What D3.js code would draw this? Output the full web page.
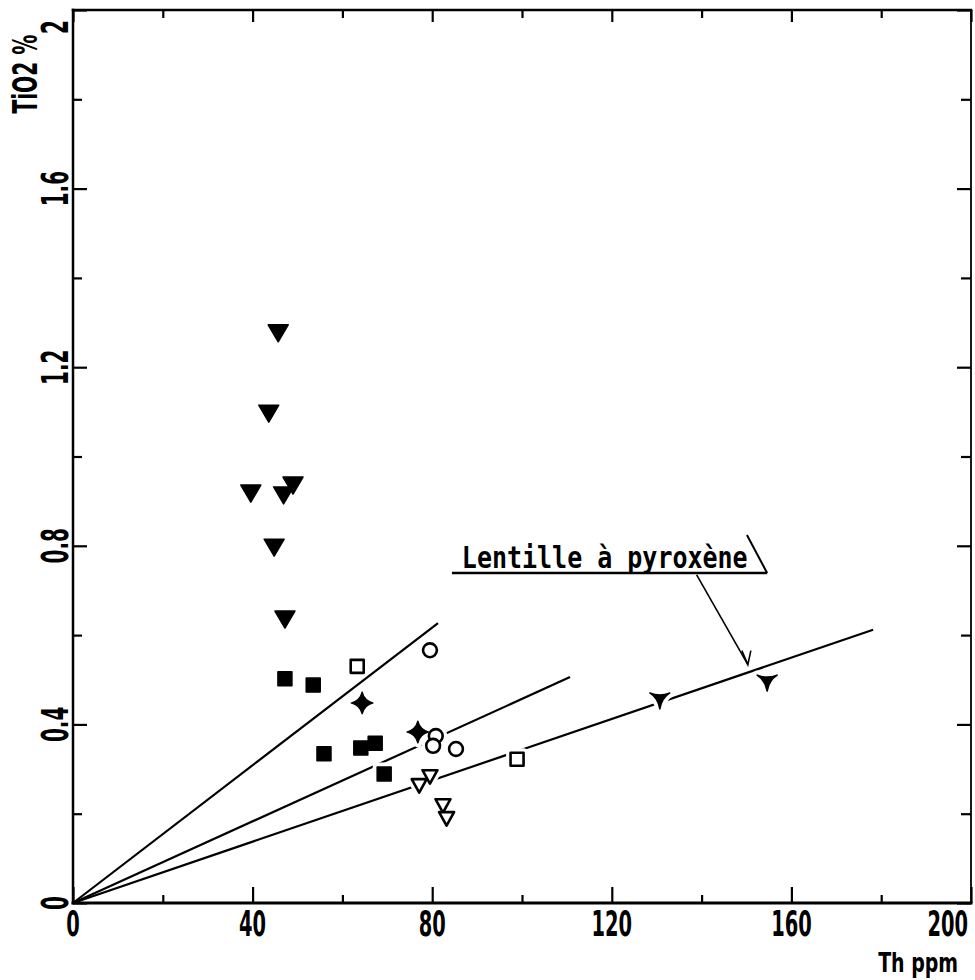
<!DOCTYPE html>
<html>
<head>
<meta charset="utf-8">
<script src="https://cdn.jsdelivr.net/npm/d3@7"></script>
<style>
  html, body { margin: 0; padding: 0; background: #fff; }
  svg { display: block; }
</style>
</head>
<body>
<svg id="chart" width="975" height="980"></svg>
<script>
// ---------------- DATA ----------------
const xTickValues = [0, 20, 40, 60, 80, 100, 120, 140, 160, 180, 200];
const xTickLabels = ["0", "40", "80", "120", "160", "200"];
const xLabelValues = [0, 40, 80, 120, 160, 200];
const yTickValues = [0, 0.2, 0.4, 0.6, 0.8, 1.0, 1.2, 1.4, 1.6, 1.8, 2.0];
const yLabelValues = [0, 0.4, 0.8, 1.2, 1.6, 2];
const yTickLabels = ["0", "0.4", "0.8", "1.2", "1.6", "2"];

// [Th ppm, TiO2 %]
const filledTriangles = [[45.7, 1.277], [43.6, 1.097], [39.6, 0.918], [46.9, 0.914], [49.0, 0.936], [44.8, 0.797], [47.2, 0.636]];
const filledSquares = [[47.2, 0.502], [53.5, 0.488], [55.9, 0.334], [64.1, 0.347], [67.3, 0.358], [69.3, 0.289]];
const openSquares = [[63.3, 0.530], [98.9, 0.322]];
const plusMarks = [[64.4, 0.448], [76.8, 0.383]];
const openCircles = [[79.5, 0.566], [80.8, 0.374], [80.2, 0.352], [85.3, 0.345]];
const openTriangles = [[77.1, 0.264], [79.5, 0.284], [82.4, 0.219], [83.2, 0.190]];
const pyroxeneMarks = [[130.7, 0.457], [154.6, 0.497]];

// regression lines from origin: end points
const lineEnds = [[81.3, 0.627], [110.7, 0.506], [178.2, 0.612]];

const annotationText = "Lentille à pyroxène";
const xTitle = "Th ppm";
const yTitle = "TiO2 %";

// ---------------- CHART ----------------
const svg = d3.select("#chart");
const x = d3.scaleLinear().domain([0, 200]).range([73, 971]);
const y = d3.scaleLinear().domain([0, 2]).range([903, 10]);

const ink = "#000";
const font = "'DejaVu Sans Condensed','DejaVu Sans',sans-serif";

// ticks via d3 axes (inward)
function styleTicks(g, majorEvery, majorLen, minorLen, horizontal, sign) {
  g.select(".domain").remove();
  g.selectAll(".tick line").each(function(d) {
    const isMajor = Math.abs(Math.round(d / majorEvery) * majorEvery - d) < 1e-6;
    const len = (isMajor ? majorLen : minorLen) * sign;
    const ln = d3.select(this).attr("stroke", ink).attr("stroke-width", 2.2);
    if (horizontal) ln.attr("x2", 0).attr("y2", len);
    else ln.attr("y2", 0).attr("x2", len);
  });
  g.selectAll(".tick text").remove();
}

svg.append("g").attr("transform", `translate(0,${y(0)})`)
  .call(d3.axisBottom(x).tickValues(xTickValues).tickFormat(""))
  .call(g => styleTicks(g, 40, 16, 8, true, -1));
svg.append("g").attr("transform", `translate(0,${y(2)})`)
  .call(d3.axisTop(x).tickValues(xTickValues).tickFormat(""))
  .call(g => styleTicks(g, 40, 12, 8, true, 1));
svg.append("g").attr("transform", `translate(${x(0)},0)`)
  .call(d3.axisLeft(y).tickValues(yTickValues).tickFormat(""))
  .call(g => styleTicks(g, 0.4, 14, 9, false, 1));
svg.append("g").attr("transform", `translate(${x(200)},0)`)
  .call(d3.axisRight(y).tickValues(yTickValues).tickFormat(""))
  .call(g => styleTicks(g, 0.4, 14, 10, false, -1));

// frame
const frame = svg.append("g").attr("stroke", ink).attr("fill", "none").attr("stroke-linecap", "square");
frame.append("line").attr("x1", x(0)).attr("x2", x(200)).attr("y1", y(0)).attr("y2", y(0)).attr("stroke-width", 3);
frame.append("line").attr("x1", x(0)).attr("x2", x(200)).attr("y1", y(2)).attr("y2", y(2)).attr("stroke-width", 2.5);
frame.append("line").attr("x1", x(0)).attr("x2", x(0)).attr("y1", y(0)).attr("y2", y(2)).attr("stroke-width", 2.5);
frame.append("line").attr("x1", x(200)).attr("x2", x(200)).attr("y1", y(0)).attr("y2", y(2)).attr("stroke-width", 1.8);

// x tick labels
svg.append("g").selectAll("text").data(xLabelValues).join("text")
  .attr("transform", (d, i) => i === xLabelValues.length - 1
      ? `translate(${x(d) - 3},936) scale(0.6,1)`
      : `translate(${x(d)},936) scale(0.6,1)`)
  .attr("text-anchor", (d, i) => i === xLabelValues.length - 1 ? "end" : "middle")
  .attr("font-family", font).attr("font-weight", "bold").attr("font-size", 36).attr("fill", ink)
  .text((d, i) => xTickLabels[i]);

// y tick labels (rotated)
svg.append("g").selectAll("text").data(yLabelValues).join("text")
  .attr("transform", (d, i) => {
    const yy = i === yLabelValues.length - 1 ? 34 : y(d);
    return `translate(68,${yy}) rotate(-90) scale(0.6,1)`;
  })
  .attr("text-anchor", (d, i) => i === yLabelValues.length - 1 ? "start" : "middle")
  .attr("font-family", font).attr("font-weight", "bold").attr("font-size", 37).attr("fill", ink)
  .text((d, i) => yTickLabels[i]);

// axis titles
svg.append("text")
  .attr("transform", `translate(958,972) scale(0.78,1)`)
  .attr("text-anchor", "end")
  .attr("font-family", font).attr("font-weight", "bold").attr("font-size", 27).attr("fill", ink)
  .text(xTitle);
svg.append("text")
  .attr("transform", `translate(37,74) rotate(-90) scale(0.66,1)`)
  .attr("text-anchor", "middle")
  .attr("font-family", font).attr("font-weight", "bold").attr("font-size", 34).attr("fill", ink)
  .text(yTitle);

// regression lines
svg.append("g").selectAll("line").data(lineEnds).join("line")
  .attr("x1", x(0)).attr("y1", y(0))
  .attr("x2", d => x(d[0])).attr("y2", d => y(d[1]))
  .attr("stroke", ink).attr("stroke-width", 2.2);

// marker shapes
const shapes = {
  filledTri: { d: "M-10,-8 L10,-8 L0,9 Z", fill: ink, stroke: ink, sw: 1.5 },
  filledSq: { d: "M-7,-7 L7,-7 L7,7 L-7,7 Z", fill: ink, stroke: ink, sw: 1.5 },
  openSq: { d: "M-6.5,-6.5 L6.5,-6.5 L6.5,6.5 L-6.5,6.5 Z", fill: "#fff", stroke: ink, sw: 2.6 },
  plus: { d: "M0,-11 Q2.2,-2.2 11,0 Q2.2,2.2 0,11 Q-2.2,2.2 -11,0 Q-2.2,-2.2 0,-11 Z", fill: ink, stroke: ink, sw: 1.2 },
  circle: { d: d3.symbol(d3.symbolCircle, 150)(), fill: "#fff", stroke: ink, sw: 2.6 },
  openTri: { d: "M-7.5,-6 L7.5,-6 L0,7.5 Z", fill: "#fff", stroke: ink, sw: 2.6 },
  pyrox: { d: "M-10,-6 Q0,-2 10,-6 Q2,-1 0,10 Q-2,-1 -10,-6 Z", fill: ink, stroke: ink, sw: 1.5 }
};
const series = [
  { data: filledTriangles, s: "filledTri" },
  { data: filledSquares, s: "filledSq" },
  { data: openSquares, s: "openSq" },
  { data: plusMarks, s: "plus" },
  { data: openCircles, s: "circle" },
  { data: openTriangles, s: "openTri" },
  { data: pyroxeneMarks, s: "pyrox" }
];

// halos (line gaps around markers)
const halo = svg.append("g");
series.forEach(se => {
  halo.selectAll(null).data(se.data).join("path")
    .attr("d", shapes[se.s].d)
    .attr("transform", d => `translate(${x(d[0])},${y(d[1])})`)
    .attr("fill", "#fff").attr("stroke", "#fff").attr("stroke-width", 9)
    .attr("stroke-linejoin", "round");
});
const marks = svg.append("g");
series.forEach(se => {
  const sh = shapes[se.s];
  marks.selectAll(null).data(se.data).join("path")
    .attr("d", sh.d)
    .attr("transform", d => `translate(${x(d[0])},${y(d[1])})`)
    .attr("fill", sh.fill).attr("stroke", sh.stroke).attr("stroke-width", sh.sw)
    .attr("stroke-linejoin", "round");
});

// annotation
const ann = svg.append("g").attr("stroke", ink).attr("fill", "none").attr("stroke-width", 2);
const ax0 = 86.6, ay0 = 0.750;
svg.append("text")
  .attr("transform", `translate(${x(ax0)},${y(ay0)}) scale(1,1.18)`)
  .attr("font-family", "'DejaVu Sans Mono',monospace").attr("font-weight", "bold")
  .attr("font-size", 25).attr("fill", ink)
  .text(annotationText);
ann.append("line").attr("x1", x(84.4)).attr("x2", x(154.6)).attr("y1", y(0.739)).attr("y2", y(0.739)).attr("stroke-width", 2.4);
ann.append("line").attr("x1", x(150.1)).attr("x2", x(154.6)).attr("y1", y(0.824)).attr("y2", y(0.739));
ann.append("line").attr("x1", x(138.9)).attr("x2", x(150.3)).attr("y1", y(0.735)).attr("y2", y(0.534)).attr("stroke-width", 1.6);
ann.append("path")
  .attr("d", `M${x(150.3) - 6},${y(0.534) - 14} L${x(150.3)},${y(0.534)} L${x(150.3) + 3},${y(0.534) - 14}`)
  .attr("stroke-width", 1.6);
</script>
</body>
</html>
